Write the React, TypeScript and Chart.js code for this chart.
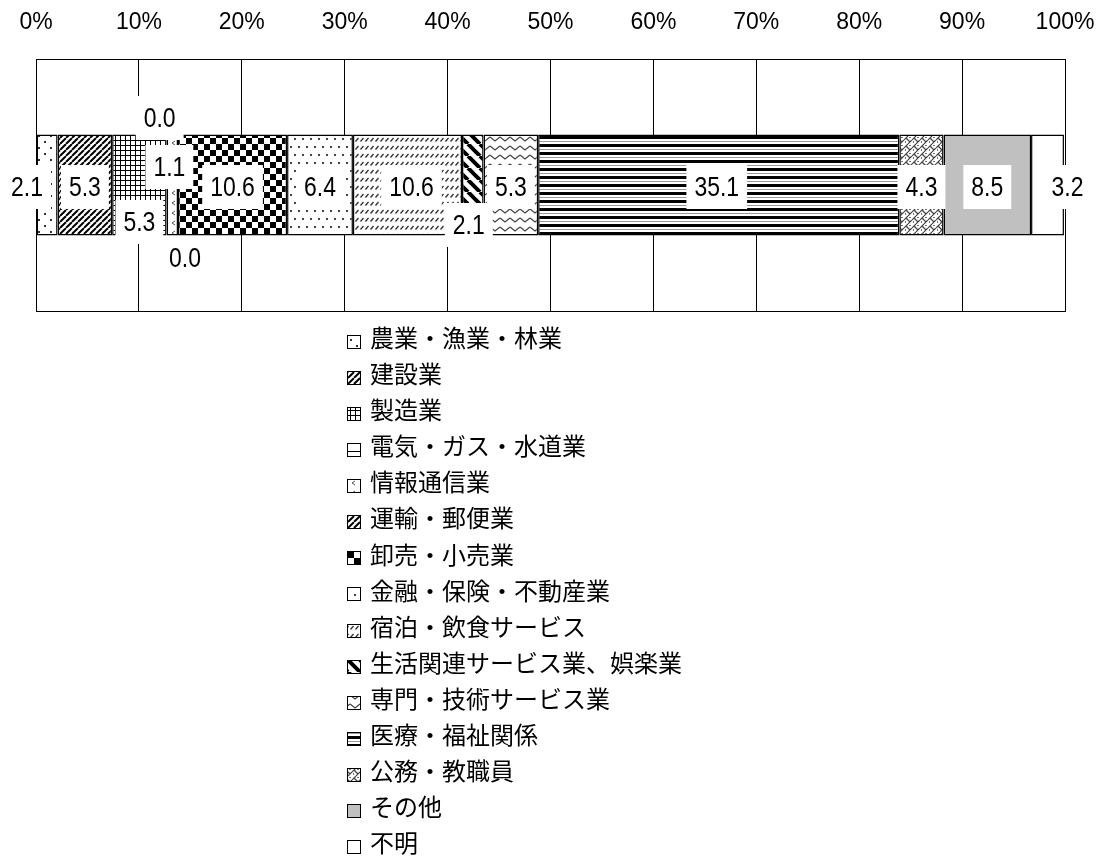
import React, { useEffect, useRef } from "react";
import { Chart, registerables } from "chart.js";

Chart.register(...registerables);

const categories = [""];
const seriesNames = [
  "農業・漁業・林業",
  "建設業",
  "製造業",
  "電気・ガス・水道業",
  "情報通信業",
  "運輸・郵便業",
  "卸売・小売業",
  "金融・保険・不動産業",
  "宿泊・飲食サービス",
  "生活関連サービス業、娯楽業",
  "専門・技術サービス業",
  "医療・福祉関係",
  "公務・教職員",
  "その他",
  "不明",
];
const seriesValues = [2.1, 5.3, 5.3, 0.0, 1.1, 0.0, 10.6, 6.4, 10.6, 2.1, 5.3, 35.1, 4.3, 8.5, 3.2];
const tickValues = [0, 10, 20, 30, 40, 50, 60, 70, 80, 90, 100];
const tickLabels = tickValues.map((v) => v + "%");

// label placement tweaks (dx, dy) in pixels, per series
const labelShift: [number, number][] = [
  [-20, 0], [0, 0], [0, 35], [-7, -69], [-3, -20], [7, 71], [0, 0], [0, 0],
  [4, 0], [-4, 38], [0, 0], [-2, 0], [0, 0], [0, 0], [20, 0],
];

const SANS = '"Liberation Sans", Arial, sans-serif';
const JP = '"Noto Sans CJK JP", "Noto Sans", sans-serif';

type Drawer = (g: CanvasRenderingContext2D, w: number, h: number) => void;

function makePattern(draw: Drawer, w: number, h: number, bg = "#fff"): CanvasPattern | string {
  const c = document.createElement("canvas");
  c.width = w;
  c.height = h;
  const g = c.getContext("2d");
  if (!g) return bg;
  g.fillStyle = bg;
  g.fillRect(0, 0, w, h);
  draw(g, w, h);
  return g.createPattern(c, "repeat") || bg;
}

function buildFills(): (CanvasPattern | string)[] {
  const sparseDots = makePattern((g) => {
    g.fillStyle = "#333";
    g.fillRect(2, 3, 2, 2);
    g.fillRect(8, 9, 2, 2);
  }, 12, 12);
  const diag = makePattern((g, w, h) => {
    g.strokeStyle = "#000";
    g.lineWidth = 2;
    g.beginPath();
    for (let k = -1; k <= 1; k++) {
      g.moveTo(k * w, h);
      g.lineTo(k * w + w, 0);
    }
    g.stroke();
  }, 6, 6);
  const grid = makePattern((g) => {
    g.fillStyle = "#000";
    g.fillRect(0, 0, 5, 1);
    g.fillRect(0, 0, 1, 5);
  }, 5, 5);
  const hline = makePattern((g) => {
    g.fillStyle = "#000";
    g.fillRect(0, 3, 8, 1);
  }, 8, 8);
  const chevron = makePattern((g) => {
    g.strokeStyle = "#555";
    g.lineWidth = 1;
    g.beginPath();
    g.moveTo(5, 1);
    g.lineTo(2, 3);
    g.lineTo(5, 5);
    g.stroke();
  }, 10, 10);
  const checker = makePattern((g) => {
    g.fillStyle = "#000";
    g.fillRect(0, 0, 6, 6);
    g.fillRect(6, 6, 6, 6);
  }, 12, 12);
  const dots = makePattern((g) => {
    g.fillStyle = "#444";
    g.fillRect(2, 2, 2, 2);
    g.fillRect(6, 10, 2, 2);
  }, 8, 16);
  const dashes = makePattern((g) => {
    g.strokeStyle = "#333";
    g.lineWidth = 1.3;
    g.beginPath();
    g.moveTo(0.5, 5.5);
    g.lineTo(3.5, 2);
    g.stroke();
  }, 5, 8);
  const bigDiag = makePattern((g, w, h) => {
    g.strokeStyle = "#000";
    g.lineWidth = 4;
    g.beginPath();
    for (let k = -1; k <= 1; k++) {
      g.moveTo(k * w, 0);
      g.lineTo(k * w + w, h);
    }
    g.stroke();
  }, 12, 12);
  const wave = makePattern((g) => {
    g.strokeStyle = "#444";
    g.lineWidth = 1.3;
    g.beginPath();
    g.moveTo(0, 2);
    g.lineTo(5, 6);
    g.lineTo(10, 2);
    g.stroke();
  }, 10, 9);
  const hstripe = makePattern((g) => {
    g.fillStyle = "#000";
    g.fillRect(0, 0, 4, 3);
    g.fillStyle = "#999";
    g.fillRect(0, 5, 4, 1);
  }, 4, 8);
  const weave = makePattern((g) => {
    g.strokeStyle = "#444";
    g.lineWidth = 1.2;
    g.beginPath();
    g.moveTo(0, 4);
    g.lineTo(4, 0);
    g.moveTo(4, 8);
    g.lineTo(8, 4);
    g.moveTo(2, 2);
    g.lineTo(6, 6);
    g.stroke();
    g.fillStyle = "#777";
    g.fillRect(5, 1, 2, 1);
    g.fillRect(1, 5, 1, 2);
  }, 8, 8);
  return [
    sparseDots, diag, grid, hline, chevron, diag, checker, dots,
    dashes, bigDiag, wave, hstripe, weave, "#c0c0c0", "#ffffff",
  ];
}

const frameAndLabels = {
  id: "frameAndLabels",
  beforeDatasetsDraw(chart: any) {
    const { ctx, chartArea } = chart;
    ctx.save();
    ctx.strokeStyle = "#000";
    ctx.lineWidth = 1;
    ctx.strokeRect(
      Math.round(chartArea.left) + 0.5,
      Math.round(chartArea.top) + 0.5,
      Math.round(chartArea.right - chartArea.left),
      Math.round(chartArea.bottom - chartArea.top)
    );
    ctx.restore();
  },
  afterDatasetsDraw(chart: any) {
    const { ctx } = chart;
    const sx = 0.82;
    ctx.save();
    ctx.font = "28px " + SANS;
    ctx.textAlign = "center";
    ctx.textBaseline = "middle";
    chart.data.datasets.forEach((ds: any, i: number) => {
      const meta = chart.getDatasetMeta(i);
      const el: any = meta.data[0];
      if (!el) return;
      const cx = (el.x + el.base) / 2 + labelShift[i][0];
      const cy = el.y + 2 + labelShift[i][1];
      const txt = Number(ds.data[0]).toFixed(1);
      const tw = ctx.measureText(txt).width * sx;
      const bw = tw + 16;
      const bh = 44;
      ctx.fillStyle = "#fff";
      ctx.fillRect(cx - bw / 2, cy - bh / 2, bw, bh);
      ctx.fillStyle = "#000";
      ctx.save();
      ctx.translate(cx, cy + 1);
      ctx.scale(sx, 1);
      ctx.fillText(txt, 0, 0);
      ctx.restore();
    });
    ctx.restore();
  },
  afterDraw(chart: any) {
    const { ctx, chartArea } = chart;
    ctx.save();
    const rowStart = chartArea.bottom + 27;
    const rowGap = 36.07;
    ctx.font = "24px " + JP;
    ctx.textAlign = "left";
    ctx.textBaseline = "middle";
    chart.data.datasets.forEach((ds: any, i: number) => {
      const y = rowStart + i * rowGap;
      const bx = 347;
      const by = Math.round(y + 4 - 7);
      ctx.fillStyle = ds.backgroundColor;
      ctx.fillRect(bx, by, 14, 14);
      ctx.strokeStyle = "#000";
      ctx.lineWidth = 1;
      ctx.strokeRect(bx + 0.5, by + 0.5, 13, 13);
      ctx.fillStyle = "#000";
      ctx.fillText(ds.label, 370, y);
    });
    ctx.restore();
  },
};

export default function App() {
  const ref = useRef<HTMLCanvasElement | null>(null);

  useEffect(() => {
    document.body.style.margin = "0";
    const canvas = ref.current;
    if (!canvas) return;
    const fills = buildFills();
    const chart = new Chart(canvas, {
      type: "bar",
      data: {
        labels: categories,
        datasets: seriesNames.map((name, i) => ({
          label: name,
          data: [seriesValues[i]],
          backgroundColor: fills[i] as any,
          borderColor: "#000",
          borderWidth: 1.5,
          borderSkipped: false,
          categoryPercentage: 0.4,
          barPercentage: 1,
        })),
      },
      options: {
        responsive: false,
        animation: false,
        indexAxis: "y",
        layout: { padding: { left: 0, right: 0, top: 0, bottom: 545 } },
        plugins: {
          legend: { display: false },
          tooltip: { enabled: false },
        },
        scales: {
          x: {
            stacked: true,
            position: "top",
            min: 0,
            max: 100,
            afterBuildTicks: (scale: any) => {
              scale.ticks = tickValues.map((v) => ({ value: v }));
            },
            ticks: {
              callback: (_v: any, idx: number) => tickLabels[idx],
              color: "#000",
              font: { size: 23, family: SANS },
              padding: 23,
              maxRotation: 0,
              autoSkip: false,
            },
            grid: { color: "#000", lineWidth: 1, drawTicks: false },
            border: { display: true, color: "#000" },
            afterFit: (scale: any) => {
              scale.height = 59;
              scale.paddingLeft = 36;
              scale.paddingRight = 35;
            },
          },
          y: { stacked: true, display: false },
        },
      } as any,
      plugins: [frameAndLabels],
    });
    return () => chart.destroy();
  }, []);

  return (
    <div style={{ width: 1100, height: 856 }}>
      <canvas ref={ref} width={1100} height={856} style={{ display: "block" }} />
    </div>
  );
}
